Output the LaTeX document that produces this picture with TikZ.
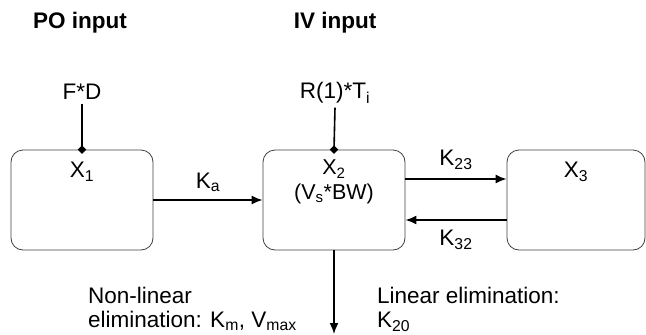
\documentclass[tikz,border=0pt]{standalone}
\usepackage{fontspec}
\setmainfont{Liberation Sans}
\usetikzlibrary{positioning,calc,shapes.geometric,arrows.meta}

\begin{document}
\begin{tikzpicture}[
    x=1pt, y=-1pt,
    font=\fontsize{22.5}{24}\selectfont,
    box/.style={draw=black!75, rectangle, rounded corners=12pt, minimum width=142pt, minimum height=100pt, line width=0.8pt},
    joint/.style={diamond, fill, inner sep=0pt, minimum size=9pt},
    head/.style={font=\fontsize{22.5}{24}\selectfont\bfseries},
    >={Latex[length=11pt,width=9pt]},
    line width=1.6pt
]
\useasboundingbox (0,0) rectangle (646,335);

% Headings
\node[head] (po) at (80,23) {PO input};
\node[head] (iv) at (335,23) {IV input};

% Doses
\node (fd) at (82,92) {F*D};
\node (rt) at (335,93) {R(1)*T\textsubscript{i}};

% Compartments
\node[box] (X1) at (82,200) {};
\node[box] (X2) at (334,200) {};
\node[box, minimum width=138pt] (X3) at (576,200) {};

\node (X1lab) at (82,172) {X\textsubscript{1}};
\node[align=center, font=\fontsize{21.5}{25}\selectfont] (X2lab) at (334,182) {X\textsubscript{2}\\(V\textsubscript{s}*BW)};
\node (X3lab) at (576,172) {X\textsubscript{3}};

% Input connections
\draw (fd.south) -- (X1.north);
\node[joint] (j1) at (X1.north) {};
\draw (rt.south) -- (X2.north);
\node[joint] (j2) at (X2.north) {};

% Transfer between compartments
\draw[->] (X1.east) -- node[above=4pt] {K\textsubscript{a}} (X2.west);
\draw[->] (X2.east |- 0,179) -- node[above=5pt] {K\textsubscript{23}} (X3.west |- 0,179);
\draw[->] (X3.west |- 0,220) -- node[below=6pt] {K\textsubscript{32}} (X2.east |- 0,220);

% Elimination
\coordinate (out) at (334,334);
\draw[->] (X2.south) -- (out);
\node[anchor=north west, align=left] (nonlin) at (84,283) {Non-linear\\elimination: K\textsubscript{m}, V\textsubscript{max}};
\node[anchor=north west, align=left] (lin) at (373,283) {Linear elimination:\\K\textsubscript{20}};

\end{tikzpicture}
\end{document}
